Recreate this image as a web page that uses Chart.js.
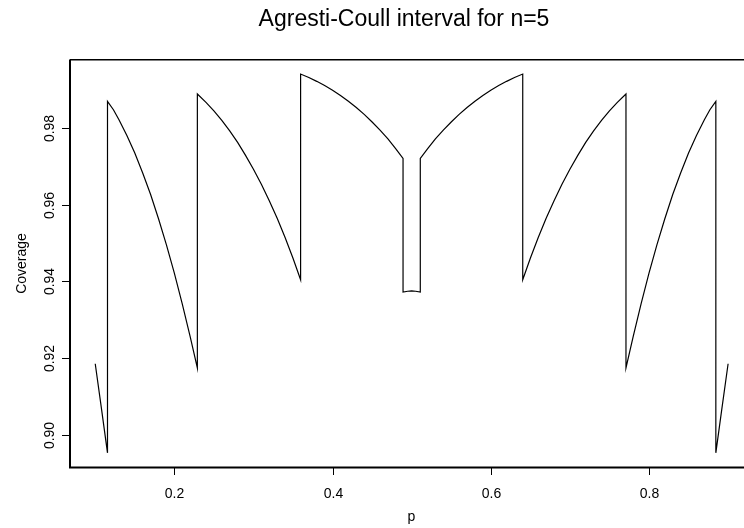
<!DOCTYPE html>
<html><head><meta charset="utf-8">
<script src="https://cdn.jsdelivr.net/npm/chart.js@4/dist/chart.umd.min.js"></script>
<style>html,body{margin:0;padding:0;background:#fff;overflow:hidden}#wrap{width:744px;height:528px;position:relative}</style>
</head><body><div id="wrap"><canvas id="c" width="744" height="528"></canvas></div>
<script>
const titleText = "Agresti-Coull interval for n=5";
const xLabel = "p";
const yLabel = "Coverage";

const pValues = [
  0.100, 0.108, 0.1155, 0.1155, 0.123, 0.13, 0.14, 0.15, 0.16, 0.17, 0.18, 0.19, 0.20, 0.21, 0.22, 0.2291,
  0.2291, 0.24, 0.25, 0.26, 0.27, 0.28, 0.29, 0.30, 0.31, 0.32, 0.33, 0.34, 0.35, 0.3596,
  0.3596, 0.37, 0.38, 0.39, 0.40, 0.41, 0.42, 0.43, 0.44, 0.45, 0.46, 0.47, 0.48, 0.4891,
  0.4891, 0.495, 0.500, 0.505, 0.5109,
  0.5109, 0.52, 0.53, 0.54, 0.55, 0.56, 0.57, 0.58, 0.59, 0.60, 0.61, 0.62, 0.63, 0.6404,
  0.6404, 0.65, 0.66, 0.67, 0.68, 0.69, 0.70, 0.71, 0.72, 0.73, 0.74, 0.75, 0.76, 0.7709,
  0.7709, 0.78, 0.79, 0.80, 0.81, 0.82, 0.83, 0.84, 0.85, 0.86, 0.87, 0.877, 0.8845,
  0.8845, 0.892, 0.900
];
const coverage = [
  0.9185, 0.9066, 0.8953, 0.9869, 0.9847, 0.9821, 0.9780, 0.9734, 0.9682, 0.9626, 0.9563, 0.9495, 0.9421, 0.9341, 0.9256, 0.9174,
  0.9888, 0.9866, 0.9844, 0.9819, 0.9792, 0.9762, 0.9728, 0.9692, 0.9653, 0.9610, 0.9564, 0.9514, 0.9460, 0.9404,
  0.9940, 0.9931, 0.9921, 0.9910, 0.9898, 0.9884, 0.9869, 0.9853, 0.9835, 0.9815, 0.9794, 0.9771, 0.9745, 0.9720,
  0.9372, 0.9374, 0.9375, 0.9374, 0.9372,
  0.9720, 0.9745, 0.9771, 0.9794, 0.9815, 0.9835, 0.9853, 0.9869, 0.9884, 0.9898, 0.9910, 0.9921, 0.9931, 0.9940,
  0.9404, 0.9460, 0.9514, 0.9564, 0.9610, 0.9653, 0.9692, 0.9728, 0.9762, 0.9792, 0.9819, 0.9844, 0.9866, 0.9888,
  0.9174, 0.9256, 0.9341, 0.9421, 0.9495, 0.9563, 0.9626, 0.9682, 0.9734, 0.9780, 0.9821, 0.9847, 0.9869,
  0.8953, 0.9066, 0.9185
];

const xTicks = [0.2, 0.4, 0.6, 0.8];
const xTickLabels = ["0.2", "0.4", "0.6", "0.8"];
const yTicks = [0.90, 0.92, 0.94, 0.96, 0.98];
const yTickLabels = ["0.90", "0.92", "0.94", "0.96", "0.98"];

const FONT = '"Liberation Sans", Arial, Helvetica, sans-serif';

const points = pValues.map((p, i) => ({ x: p, y: coverage[i] }));

const rFrame = {
  id: 'rFrame',
  afterDraw(chart) {
    const ctx = chart.ctx;
    const xs = chart.scales.x, ys = chart.scales.y;
    ctx.save();
    ctx.strokeStyle = '#000';
    ctx.fillStyle = '#000';
    // frame (right side lies beyond the canvas)
    ctx.lineWidth = 2;
    ctx.beginPath();
    ctx.moveTo(744, 467.5); ctx.lineTo(70, 467.5); ctx.lineTo(70, 59.5);
    ctx.stroke();
    ctx.lineWidth = 1.5;
    ctx.beginPath();
    ctx.moveTo(70, 59.75); ctx.lineTo(744, 59.75);
    ctx.stroke();
    // x ticks
    ctx.lineWidth = 1;
    ctx.font = '14px ' + FONT;
    ctx.textAlign = 'center';
    ctx.textBaseline = 'alphabetic';
    xTicks.forEach((v, i) => {
      const px = Math.round(xs.getPixelForValue(v)) + 0.5;
      ctx.beginPath(); ctx.moveTo(px, 468); ctx.lineTo(px, 475); ctx.stroke();
      ctx.fillText(xTickLabels[i], px, 497.5);
    });
    // y ticks
    yTicks.forEach((v, i) => {
      const py = Math.round(ys.getPixelForValue(v)) + 0.5;
      ctx.beginPath(); ctx.moveTo(62, py); ctx.lineTo(70, py); ctx.stroke();
      ctx.save();
      ctx.translate(54, py);
      ctx.rotate(-Math.PI / 2);
      ctx.textAlign = 'center';
      ctx.fillText(yTickLabels[i], 0, 0);
      ctx.restore();
    });
    // axis titles
    ctx.textAlign = 'center';
    ctx.fillText(xLabel, 411.5, 521);
    ctx.save();
    ctx.translate(26, 263.5);
    ctx.rotate(-Math.PI / 2);
    ctx.fillText(yLabel, 0, 0);
    ctx.restore();
    // main title
    ctx.font = '23px ' + FONT;
    ctx.fillText(titleText, 404, 26);
    ctx.restore();
  }
};

new Chart(document.getElementById('c'), {
  type: 'scatter',
  data: {
    datasets: [{
      data: points,
      showLine: true,
      borderColor: '#000',
      borderWidth: 1.2,
      pointRadius: 0,
      pointHoverRadius: 0,
      tension: 0,
      fill: false
    }]
  },
  options: {
    responsive: false,
    animation: false,
    devicePixelRatio: 1,
    layout: { padding: { left: 70, top: 60, right: 0, bottom: 60.5 } },
    plugins: { legend: { display: false }, tooltip: { enabled: false }, title: { display: false } },
    events: [],
    scales: {
      x: { type: 'linear', display: false, min: 0.0681, max: 0.9201 },
      y: { type: 'linear', display: false, min: 0.89147, max: 0.99766 }
    }
  },
  plugins: [rFrame]
});
</script>
</body></html>
